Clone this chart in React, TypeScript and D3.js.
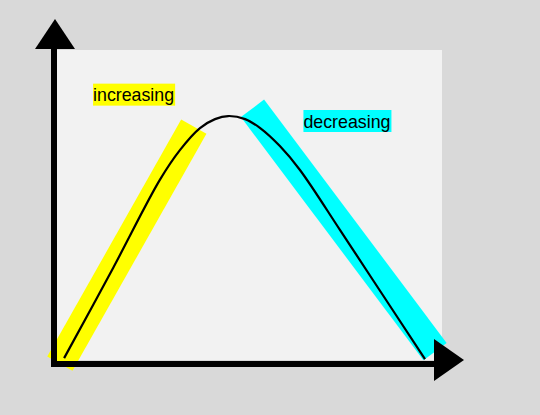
import * as d3 from 'd3';
import { useEffect, useRef } from 'react';

// curve samples (data units, 0..100 on both axes)
const curveX = [2.1, 14.8, 26.9, 32.1, 37.3, 41.2, 44.6, 49.0, 52.9, 58.0, 63.2, 73.6, 82.1, 95.6];
const curveY = [0.6, 29.7, 58.1, 67.7, 74.8, 77.7, 78.7, 77.7, 74.8, 69.0, 61.3, 41.9, 25.8, 0.3];

// highlight bands: start / end points
const bandNames = ['increasing', 'decreasing'];
const bandX = [[1.0, 35.7], [50.9, 98.2]];
const bandY = [[-1.2, 75.3], [81.2, 2.7]];
const bandColors = ['#ffff00', '#00ffff'];

// label anchors (data units)
const labelX = [9.6, 64.1];
const labelY = [83.5, 75.0];

export default function App() {
    const ref = useRef<SVGSVGElement | null>(null);

    useEffect(() => {
        const svg = d3.select(ref.current);
        svg.selectAll('*').remove();

        const width = 540;
        const height = 415;
        const plot = { left: 56, right: 442, top: 50, bottom: 360 };

        const x = d3.scaleLinear().domain([0, 100]).range([plot.left, plot.right]);
        const y = d3.scaleLinear().domain([0, 100]).range([plot.bottom, plot.top]);

        svg.attr('width', width).attr('height', height);

        svg.append('rect')
            .attr('width', width)
            .attr('height', height)
            .attr('fill', '#d9d9d9');

        svg.append('rect')
            .attr('x', plot.left)
            .attr('y', plot.top)
            .attr('width', plot.right - plot.left)
            .attr('height', plot.bottom - plot.top)
            .attr('fill', '#f2f2f2');

        const line = d3.line<[number, number]>()
            .x(d => x(d[0]))
            .y(d => y(d[1]));

        bandNames.forEach((_, i) => {
            const pts: [number, number][] = bandX[i].map((v, j) => [v, bandY[i][j]]);
            svg.append('path')
                .attr('d', line(pts))
                .attr('stroke', bandColors[i])
                .attr('stroke-width', 29)
                .attr('stroke-linecap', 'butt')
                .attr('fill', 'none');
        });

        const curvePts: [number, number][] = curveX.map((v, i) => [v, curveY[i]]);
        svg.append('path')
            .attr('d', line.curve(d3.curveCatmullRom.alpha(0.5))(curvePts))
            .attr('stroke', '#000')
            .attr('stroke-width', 2.2)
            .attr('fill', 'none');

        // axes with arrow heads
        const ax = x(0) - 2;
        const ay = y(0) + 4;
        svg.append('line')
            .attr('x1', ax).attr('y1', 48)
            .attr('x2', ax).attr('y2', ay + 1)
            .attr('stroke', '#000').attr('stroke-width', 6);
        svg.append('path')
            .attr('d', `M${ax + 1},19L${ax - 19},49L${ax + 21},49Z`)
            .attr('fill', '#000');
        svg.append('line')
            .attr('x1', ax - 3).attr('y1', ay)
            .attr('x2', 436).attr('y2', ay)
            .attr('stroke', '#000').attr('stroke-width', 6);
        svg.append('path')
            .attr('d', `M434,339L464,360L434,381Z`)
            .attr('fill', '#000');

        // labels with coloured backgrounds
        bandNames.forEach((name, i) => {
            const g = svg.append('g');
            const t = g.append('text')
                .attr('x', x(labelX[i]))
                .attr('y', y(labelY[i]))
                .attr('font-family', '"Liberation Sans", Arial, sans-serif')
                .attr('font-size', 17.8)
                .attr('fill', '#000')
                .text(name);
            const bb = (t.node() as SVGTextElement).getBBox();
            g.insert('rect', 'text')
                .attr('x', bb.x)
                .attr('y', bb.y - 1.5)
                .attr('width', bb.width + 1)
                .attr('height', bb.height + 2)
                .attr('fill', bandColors[i]);
        });
    }, []);

    return <svg ref={ref} style={{ position: 'absolute', left: 0, top: 0 }}></svg>;
}
